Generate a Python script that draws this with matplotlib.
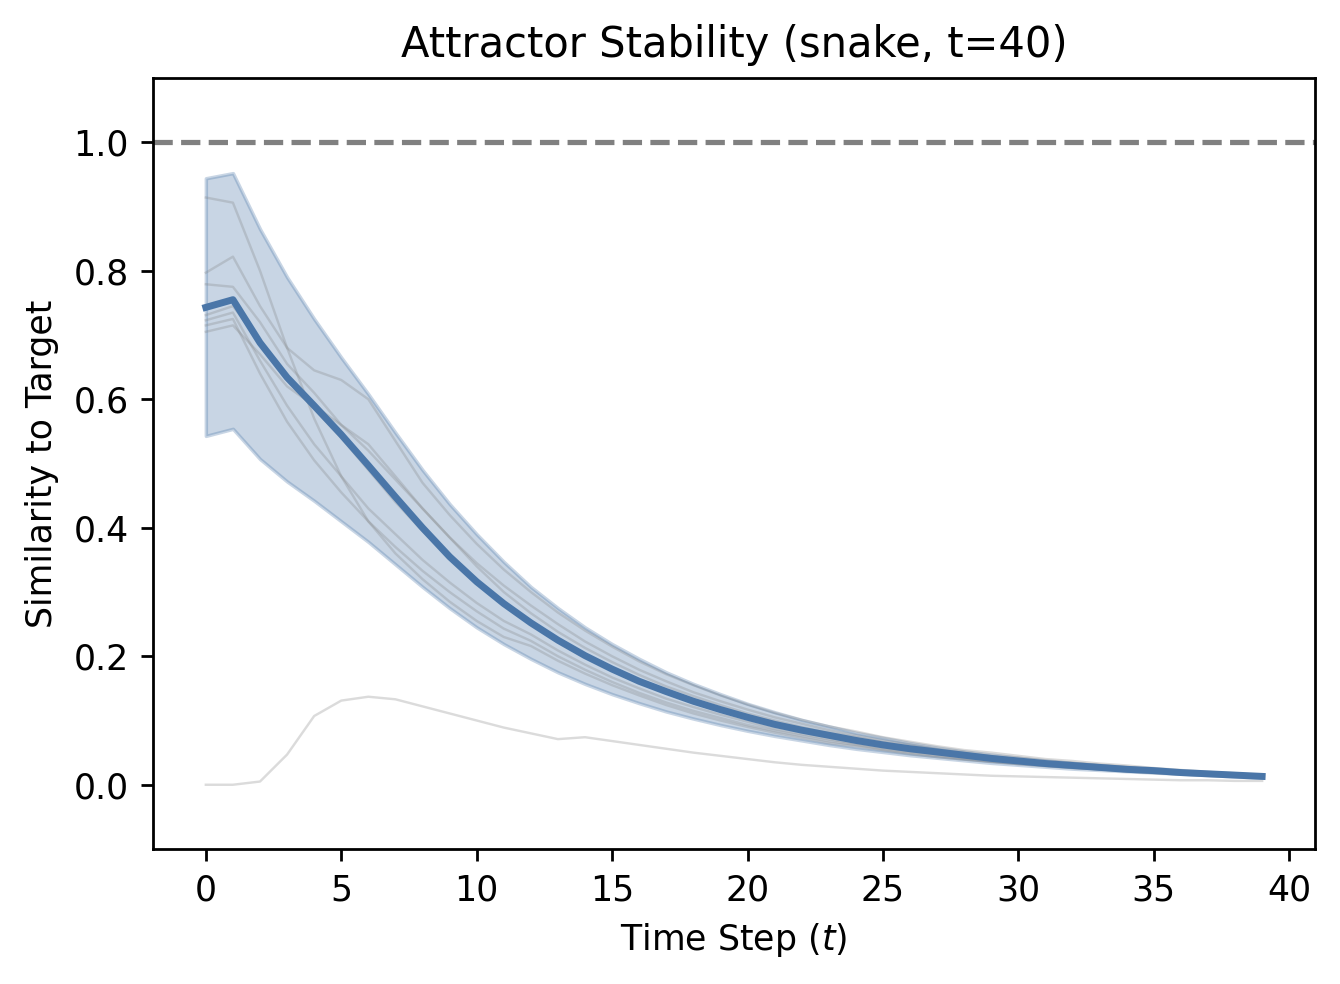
import numpy as np
import matplotlib
matplotlib.use("Agg")
import matplotlib.pyplot as plt

steps = list(range(40))

mean_sim = [0.743, 0.755, 0.688, 0.634, 0.590, 0.545, 0.497, 0.448, 0.400, 0.355,
            0.316, 0.282, 0.252, 0.225, 0.201, 0.180, 0.161, 0.145, 0.130, 0.117,
            0.105, 0.094, 0.085, 0.077, 0.069, 0.062, 0.056, 0.051, 0.046, 0.041,
            0.037, 0.033, 0.030, 0.027, 0.024, 0.022, 0.019, 0.017, 0.015, 0.013]

upper_sim = [0.944, 0.952, 0.865, 0.790, 0.725, 0.665, 0.608, 0.548, 0.490, 0.437,
             0.390, 0.347, 0.308, 0.275, 0.245, 0.219, 0.196, 0.175, 0.157, 0.141,
             0.126, 0.113, 0.101, 0.091, 0.081, 0.073, 0.065, 0.058, 0.052, 0.047,
             0.042, 0.038, 0.034, 0.030, 0.027, 0.024, 0.021, 0.019, 0.017, 0.015]

lower_sim = [0.543, 0.554, 0.507, 0.472, 0.442, 0.410, 0.378, 0.343, 0.308, 0.275,
             0.245, 0.219, 0.196, 0.175, 0.157, 0.141, 0.127, 0.114, 0.103, 0.093,
             0.084, 0.076, 0.069, 0.062, 0.056, 0.051, 0.046, 0.042, 0.038, 0.034,
             0.031, 0.028, 0.025, 0.023, 0.021, 0.019, 0.017, 0.015, 0.013, 0.011]

run_a = [0.914, 0.906, 0.800, 0.680, 0.570, 0.480, 0.410, 0.360, 0.320, 0.285,
         0.255, 0.230, 0.216, 0.193, 0.173, 0.155, 0.139, 0.124, 0.111, 0.100,
         0.090, 0.081, 0.073, 0.065, 0.060, 0.054, 0.048, 0.043, 0.039, 0.036,
         0.032, 0.029, 0.026, 0.024, 0.021, 0.018, 0.016, 0.014, 0.013, 0.011]
run_b = [0.797, 0.822, 0.745, 0.680, 0.645, 0.630, 0.600, 0.535, 0.470, 0.420,
         0.375, 0.335, 0.300, 0.268, 0.240, 0.215, 0.192, 0.172, 0.155, 0.139,
         0.125, 0.112, 0.101, 0.091, 0.083, 0.074, 0.067, 0.060, 0.054, 0.050,
         0.045, 0.040, 0.037, 0.033, 0.030, 0.026, 0.023, 0.020, 0.018, 0.015]
run_c = [0.779, 0.775, 0.720, 0.655, 0.610, 0.560, 0.520, 0.475, 0.430, 0.385,
         0.345, 0.310, 0.279, 0.250, 0.223, 0.200, 0.179, 0.161, 0.144, 0.130,
         0.117, 0.105, 0.095, 0.085, 0.077, 0.069, 0.063, 0.056, 0.051, 0.046,
         0.042, 0.037, 0.034, 0.031, 0.028, 0.024, 0.021, 0.019, 0.017, 0.014]
run_d = [0.731, 0.745, 0.690, 0.630, 0.585, 0.540, 0.490, 0.440, 0.395, 0.355,
         0.318, 0.284, 0.254, 0.227, 0.203, 0.182, 0.163, 0.146, 0.131, 0.118,
         0.106, 0.095, 0.086, 0.077, 0.070, 0.063, 0.057, 0.051, 0.046, 0.041,
         0.037, 0.033, 0.030, 0.027, 0.024, 0.022, 0.019, 0.017, 0.015, 0.013]
run_e = [0.723, 0.735, 0.660, 0.590, 0.530, 0.480, 0.430, 0.390, 0.350, 0.315,
         0.283, 0.255, 0.234, 0.209, 0.187, 0.167, 0.150, 0.134, 0.121, 0.109,
         0.098, 0.087, 0.079, 0.071, 0.064, 0.058, 0.052, 0.047, 0.042, 0.038,
         0.034, 0.031, 0.028, 0.025, 0.022, 0.020, 0.018, 0.016, 0.014, 0.012]
run_f = [0.715, 0.725, 0.640, 0.565, 0.505, 0.455, 0.410, 0.370, 0.333, 0.300,
         0.270, 0.243, 0.224, 0.200, 0.179, 0.160, 0.143, 0.128, 0.115, 0.104,
         0.093, 0.084, 0.076, 0.068, 0.062, 0.055, 0.050, 0.045, 0.040, 0.036,
         0.033, 0.030, 0.027, 0.024, 0.021, 0.019, 0.017, 0.015, 0.013, 0.011]
run_g = [0.705, 0.715, 0.670, 0.620, 0.590, 0.560, 0.530, 0.480, 0.430, 0.385,
         0.340, 0.300, 0.267, 0.238, 0.213, 0.191, 0.171, 0.153, 0.138, 0.124,
         0.111, 0.100, 0.090, 0.081, 0.074, 0.066, 0.060, 0.054, 0.048, 0.043,
         0.039, 0.035, 0.032, 0.028, 0.025, 0.023, 0.020, 0.018, 0.016, 0.014]
run_h = [0.000, 0.000, 0.005, 0.047, 0.107, 0.131, 0.137, 0.133, 0.122, 0.111,
         0.100, 0.089, 0.080, 0.071, 0.074, 0.068, 0.062, 0.056, 0.050, 0.045,
         0.040, 0.035, 0.031, 0.028, 0.025, 0.022, 0.020, 0.018, 0.016, 0.014,
         0.013, 0.012, 0.011, 0.010, 0.009, 0.008, 0.007, 0.007, 0.006, 0.006]

runs = [run_a, run_b, run_c, run_d, run_e, run_f, run_g, run_h]

blue = '#4A76A8'

fig = plt.figure(figsize=(5.36, 3.936), dpi=250)
ax = fig.add_axes([0.1142, 0.1372, 0.8671, 0.7835])

for r in runs:
    ax.plot(steps, r, color='gray', alpha=0.28, linewidth=0.7)

ax.fill_between(steps, lower_sim, upper_sim, color=blue, alpha=0.3)
ax.plot(steps, mean_sim, color=blue, linewidth=2.0)
ax.axhline(1.0, color='gray', linestyle='--', linewidth=1.5)

ax.set_ylim(-0.1, 1.1)
ax.set_xlim(-1.95, 40.95)
ax.set_xticks([0, 5, 10, 15, 20, 25, 30, 35, 40])
ax.set_yticks([0.0, 0.2, 0.4, 0.6, 0.8, 1.0])
ax.set_title('Attractor Stability (snake, t=40)', fontsize=12)
ax.set_xlabel('Time Step ($t$)')
ax.set_ylabel('Similarity to Target')

fig.savefig('out.png', dpi=250)
